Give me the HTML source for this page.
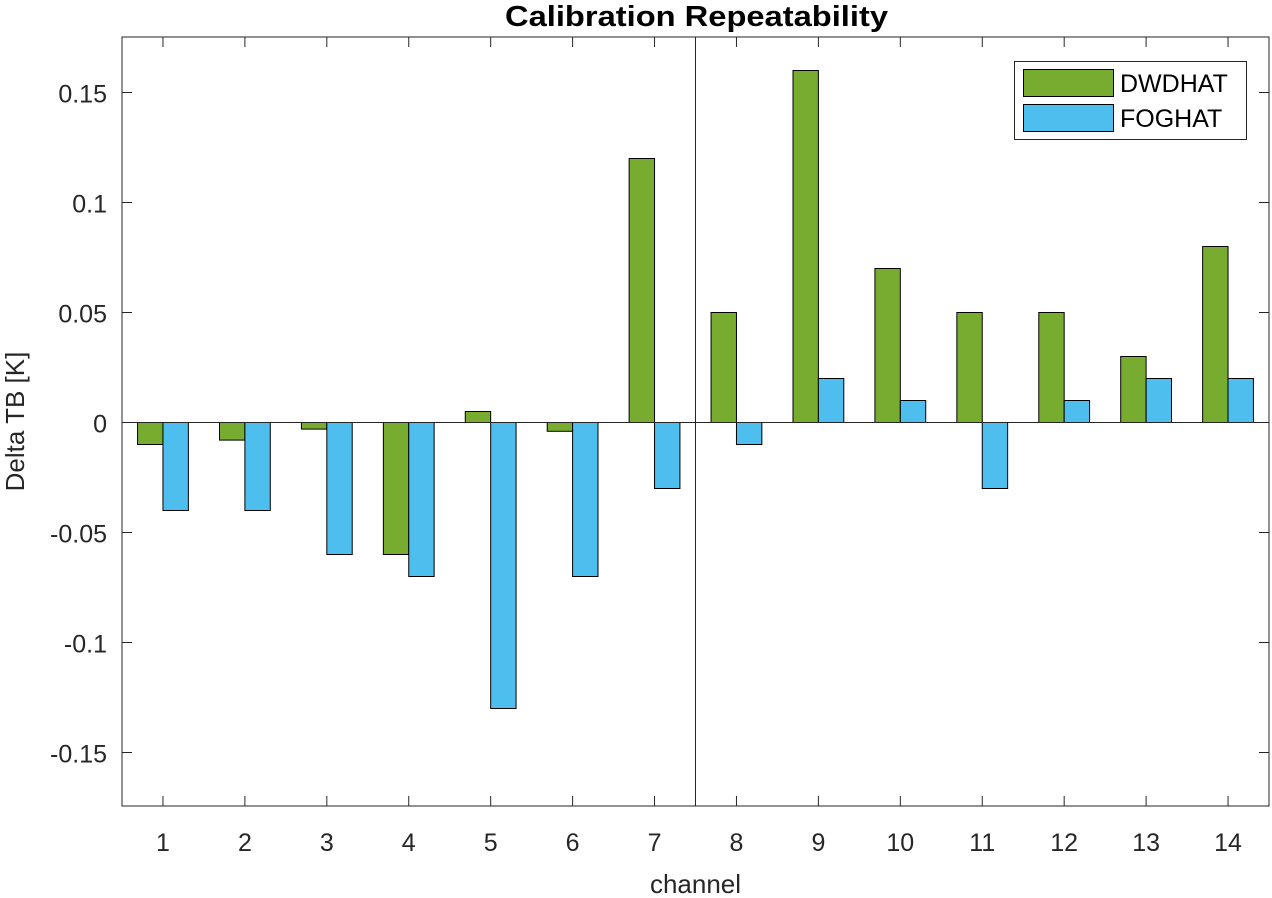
<!DOCTYPE html>
<html><head><meta charset="utf-8"><style>
html,body{margin:0;padding:0;background:#fff;}
svg{display:block;font-family:"Liberation Sans",Arial,sans-serif;}
</style></head><body>
<svg id="chart" width="1272" height="898" viewBox="0 0 1272 898"></svg>
<script>
const channels=[1,2,3,4,5,6,7,8,9,10,11,12,13,14];
const dwdhat=[-0.01,-0.008,-0.003,-0.06,0.005,-0.004,0.12,0.05,0.16,0.07,0.05,0.05,0.03,0.08];
const foghat=[-0.04,-0.04,-0.06,-0.07,-0.13,-0.07,-0.03,-0.01,0.02,0.01,-0.03,0.01,0.02,0.02];
const yTicks=[-0.15,-0.1,-0.05,0,0.05,0.1,0.15];
const yTickLabels=["-0.15","-0.1","-0.05","0","0.05","0.1","0.15"];
const L=122,R=1269,T=37,B=806;
const x=v=>L+(v-0.5)/14*(R-L);
const y=v=>422.5-v/0.05*110;
const NS="http://www.w3.org/2000/svg";
const svg=document.getElementById('chart');
function mk(t,a,p){const e=document.createElementNS(NS,t);for(const k in a)e.setAttribute(k,a[k]);(p||svg).appendChild(e);return e;}
const bw=(R-L)/14*0.31;
channels.forEach((c,i)=>{
  const g=mk('rect',{x:x(c)-bw,y:Math.min(y(0),y(dwdhat[i])),width:bw,height:Math.abs(y(dwdhat[i])-y(0)),fill:'#77ac30',stroke:'#000','stroke-width':1});
  
  
  const b=mk('rect',{x:x(c),y:Math.min(y(0),y(foghat[i])),width:bw,height:Math.abs(y(foghat[i])-y(0)),fill:'#4dbeee',stroke:'#000','stroke-width':1});
  
  
});
const zl=mk('line',{x1:L,x2:R,y1:y(0),y2:y(0),stroke:'#262626','stroke-width':1});


const vl=mk('line',{x1:x(7.5),x2:x(7.5),y1:T,y2:B,stroke:'#262626','stroke-width':1});


const frame=mk('rect',{x:L,y:T,width:R-L,height:B-T,fill:'none',stroke:'#262626','stroke-width':1});


channels.forEach(c=>{
  mk('line',{x1:x(c),x2:x(c),y1:B,y2:B-10,stroke:'#262626'});
  mk('line',{x1:x(c),x2:x(c),y1:T,y2:T+10,stroke:'#262626'});
  const t=mk('text',{x:x(c),y:851,'text-anchor':'middle','font-size':25,fill:'#262626'});
  t.textContent=c;
  
  
});
yTicks.forEach((v,i)=>{
  mk('line',{x1:L,x2:L+10,y1:y(v),y2:y(v),stroke:'#262626'});
  mk('line',{x1:R,x2:R-10,y1:y(v),y2:y(v),stroke:'#262626'});
  const t=mk('text',{x:L-15,y:y(v)+10,'text-anchor':'end','font-size':25,fill:'#262626'});
  t.textContent=yTickLabels[i];
  
  
});
const title=mk('text',{x:505,y:26,'font-size':29,'font-weight':'bold',fill:'#000',textLength:383,lengthAdjust:'spacingAndGlyphs'});
title.textContent='Calibration Repeatability';


const xl=mk('text',{x:(L+R)/2,y:893,'text-anchor':'middle','font-size':26,fill:'#262626'});
xl.textContent='channel';


const yl=mk('text',{x:0,y:0,'text-anchor':'middle','font-size':26,fill:'#262626',transform:'translate(24,'+((T+B)/2)+') rotate(-90)'});
yl.textContent='Delta TB [K]';


const lg=mk('g',{});


mk('rect',{x:1014.5,y:61.5,width:232,height:78,fill:'#fff',stroke:'#262626'},lg);
mk('rect',{x:1023.5,y:69.5,width:90,height:27,fill:'#77ac30',stroke:'#000'},lg);
mk('rect',{x:1023.5,y:104.5,width:90,height:27,fill:'#4dbeee',stroke:'#000'},lg);
const t1=mk('text',{x:1120,y:92,'font-size':25,fill:'#000'},lg);t1.textContent='DWDHAT';


const t2=mk('text',{x:1120,y:127,'font-size':25,fill:'#000'},lg);t2.textContent='FOGHAT';


</script>
</body></html>
